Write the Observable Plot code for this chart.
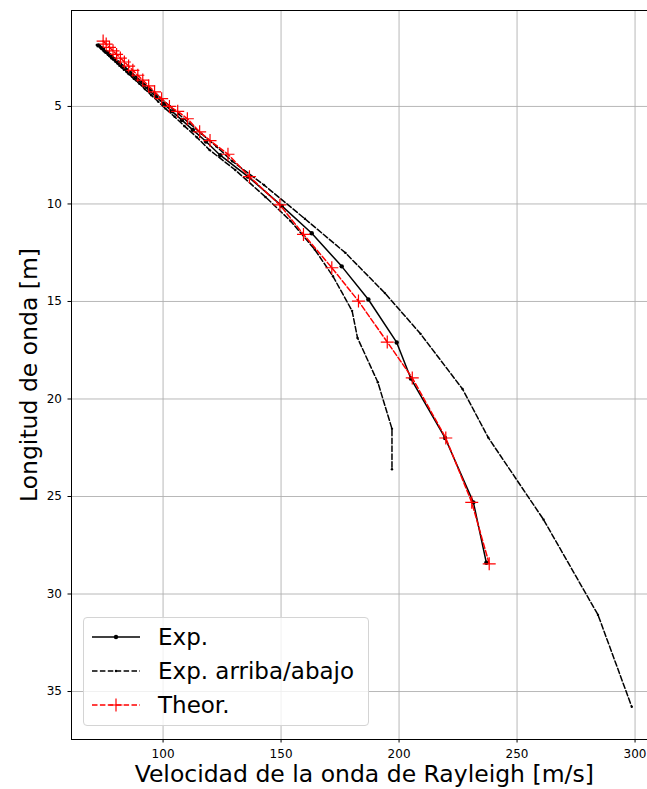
<!DOCTYPE html>
<html>
<head>
<meta charset="utf-8">
<script src="https://cdn.jsdelivr.net/npm/d3@7"></script>
<script src="https://cdn.jsdelivr.net/npm/@observablehq/plot@0.6"></script>
<style>
  html, body { margin: 0; padding: 0; background: white; }
  #wrap { position: relative; width: 647px; height: 789px; overflow: hidden; font-family: "DejaVu Sans", sans-serif; }
  #legend { position: absolute; left: 83px; top: 617px; width: 286px; height: 109px; box-sizing: border-box;
    border: 1px solid #d4d4d4; border-radius: 4px; background: rgba(255,255,255,0.8); }
  .row { position: absolute; left: 0; height: 30px; display: flex; align-items: center; }
  .row svg { margin-left: 8px; }
  .row span { margin-left: 18px; font-size: 23px; color: black; line-height: 30px; }
</style>
</head>
<body>
<div id="wrap"></div>
<script>
// Experimental dispersion curve
const expV = [72.6, 74.2, 75.8, 77.5, 79.1, 80.9, 82.7, 84.8, 86.9, 89.2, 91.8, 94.3, 97.2, 100.4, 103.8, 108.0, 112.6, 118.2, 124.2, 136.0, 150.3, 163.0, 175.7, 187.0, 199.0, 205.0, 219.5, 231.5, 237.0];
const expL = [1.87, 2.02, 2.2, 2.38, 2.56, 2.75, 2.95, 3.17, 3.4, 3.65, 3.92, 4.2, 4.52, 4.87, 5.25, 5.7, 6.2, 6.8, 7.5, 8.6, 10.1, 11.5, 13.2, 14.9, 17.1, 18.95, 22.0, 25.3, 28.4];
// Upper bound ("arriba")
const upV = [73.3, 74.9, 76.7, 78.4, 80.1, 82.0, 83.9, 86.2, 88.4, 90.8, 93.6, 96.3, 99.4, 102.9, 106.6, 111.2, 116.3, 122.6, 129.3, 142.8, 160.1, 177.3, 194.0, 209.1, 226.9, 237.8, 261.2, 284.3, 298.6];
const upL = [1.89, 2.04, 2.23, 2.41, 2.59, 2.79, 2.99, 3.22, 3.46, 3.72, 4.0, 4.29, 4.62, 4.99, 5.39, 5.87, 6.4, 7.05, 7.81, 9.03, 10.76, 12.51, 14.57, 16.66, 19.49, 21.98, 26.18, 31.07, 35.78];
// Lower bound ("abajo")
const lowV = [71.9, 73.5, 74.9, 76.6, 78.1, 79.8, 81.5, 83.4, 85.4, 87.6, 90.0, 92.3, 95.0, 97.9, 101.0, 104.9, 109.1, 114.3, 119.7, 130.6, 143.5, 154.0, 164.3, 172.0, 180.1, 182.4, 191.0, 197.0, 197.0];
const lowL = [1.85, 2.0, 2.17, 2.35, 2.53, 2.71, 2.91, 3.12, 3.34, 3.58, 3.84, 4.11, 4.42, 4.75, 5.11, 5.53, 6.01, 6.58, 7.23, 8.26, 9.65, 10.87, 12.34, 13.71, 15.48, 16.87, 19.14, 21.53, 23.6];
// Theoretical curve
const theoV = [74.6, 75.9, 77.3, 78.8, 80.3, 81.9, 83.6, 85.4, 87.2, 89.3, 91.4, 93.9, 96.4, 99.4, 102.7, 106.2, 110.3, 115.5, 119.9, 127.5, 136.6, 149.5, 159.5, 171.5, 182.8, 195.0, 205.6, 219.8, 230.8, 238.2];
const theoL = [1.65, 1.8, 1.97, 2.15, 2.33, 2.52, 2.72, 2.93, 3.15, 3.4, 3.65, 3.95, 4.25, 4.6, 5.0, 5.25, 5.63, 6.3, 6.75, 7.45, 8.6, 10.05, 11.56, 13.27, 14.98, 17.08, 18.92, 22.0, 25.3, 28.45];

const xTicks = [100, 150, 200, 250, 300];
const yTicks = [5, 10, 15, 20, 25, 30, 35];
const xLabel = "Velocidad de la onda de Rayleigh [m/s]";
const yLabel = "Longitud de onda [m]";
const legendLabels = ["Exp.", "Exp. arriba/abajo", "Theor."];

const toRows = (V, L) => V.map((v, i) => ({v, l: L[i]}));
const exp = toRows(expV, expL);
const up = toRows(upV, upL);
const low = toRows(lowV, lowL);
const theo = toRows(theoV, theoL);

const plus = {
  draw(ctx, size) {
    const r = Math.sqrt(size / Math.PI);
    ctx.moveTo(-r, 0); ctx.lineTo(r, 0);
    ctx.moveTo(0, -r); ctx.lineTo(0, r);
  }
};

const dash = "5.5,2.4";
const chart = Plot.plot({
  width: 647, height: 789,
  marginLeft: 71, marginTop: 10, marginBottom: 50, marginRight: -9.5,
  style: {fontFamily: "DejaVu Sans", background: "white", color: "black", overflow: "visible"},
  x: {domain: [61.2, 309.3]},
  y: {domain: [0.08, 37.46], reverse: true},
  marks: [
    Plot.gridX(xTicks, {stroke: "#b0b0b0", strokeOpacity: 1, strokeWidth: 0.9}),
    Plot.gridY(yTicks, {stroke: "#b0b0b0", strokeOpacity: 1, strokeWidth: 0.9}),
    Plot.line(up, {x: "v", y: "l", stroke: "black", strokeWidth: 1.5, strokeDasharray: dash}),
    Plot.dot(up, {x: "v", y: "l", r: 1.2, fill: "black"}),
    Plot.line(low, {x: "v", y: "l", stroke: "black", strokeWidth: 1.5, strokeDasharray: dash}),
    Plot.dot(low, {x: "v", y: "l", r: 1.2, fill: "black"}),
    Plot.line(exp, {x: "v", y: "l", stroke: "black", strokeWidth: 1.5}),
    Plot.dot(exp, {x: "v", y: "l", r: 2.2, fill: "black"}),
    Plot.line(theo, {x: "v", y: "l", stroke: "red", strokeWidth: 1.5, strokeDasharray: dash}),
    Plot.dot(theo, {x: "v", y: "l", symbol: plus, r: 6.5, stroke: "red", strokeWidth: 1.2, fill: "none"}),
    Plot.frame({stroke: "black", strokeWidth: 1}),
    Plot.axisX(xTicks, {tickSize: 3.5, tickPadding: 6, fontSize: 12, label: null}),
    Plot.axisY(yTicks, {tickSize: 3.5, tickPadding: 6, fontSize: 12, label: null}),
    Plot.text([xLabel], {frameAnchor: "bottom", lineAnchor: "middle", textAnchor: "middle", dy: 35, fontSize: 23.5, fill: "black"}),
    Plot.text([yLabel], {frameAnchor: "left", lineAnchor: "middle", textAnchor: "middle", dx: -42, rotate: -90, fontSize: 23.5, fill: "black"})
  ]
});
const wrap = document.getElementById("wrap");
wrap.appendChild(chart);

// Legend
const legend = document.createElement("div");
legend.id = "legend";
const samples = [
  `<line x1="0" y1="10" x2="48" y2="10" stroke="black" stroke-width="1.5"/><circle cx="24" cy="10" r="2.2" fill="black"/>`,
  `<line x1="0" y1="10" x2="48" y2="10" stroke="black" stroke-width="1.5" stroke-dasharray="${dash}"/><circle cx="24" cy="10" r="1.2" fill="black"/>`,
  `<line x1="0" y1="10" x2="48" y2="10" stroke="red" stroke-width="1.5" stroke-dasharray="${dash}"/><path d="M17.5,10H30.5M24,3.5V16.5" stroke="red" stroke-width="1.2"/>`
];
legendLabels.forEach((t, i) => {
  const row = document.createElement("div");
  row.className = "row";
  row.style.top = (4 + i * 34) + "px";
  row.innerHTML = `<svg width="48" height="20">${samples[i]}</svg><span>${t}</span>`;
  legend.appendChild(row);
});
wrap.appendChild(legend);
</script>
</body>
</html>
